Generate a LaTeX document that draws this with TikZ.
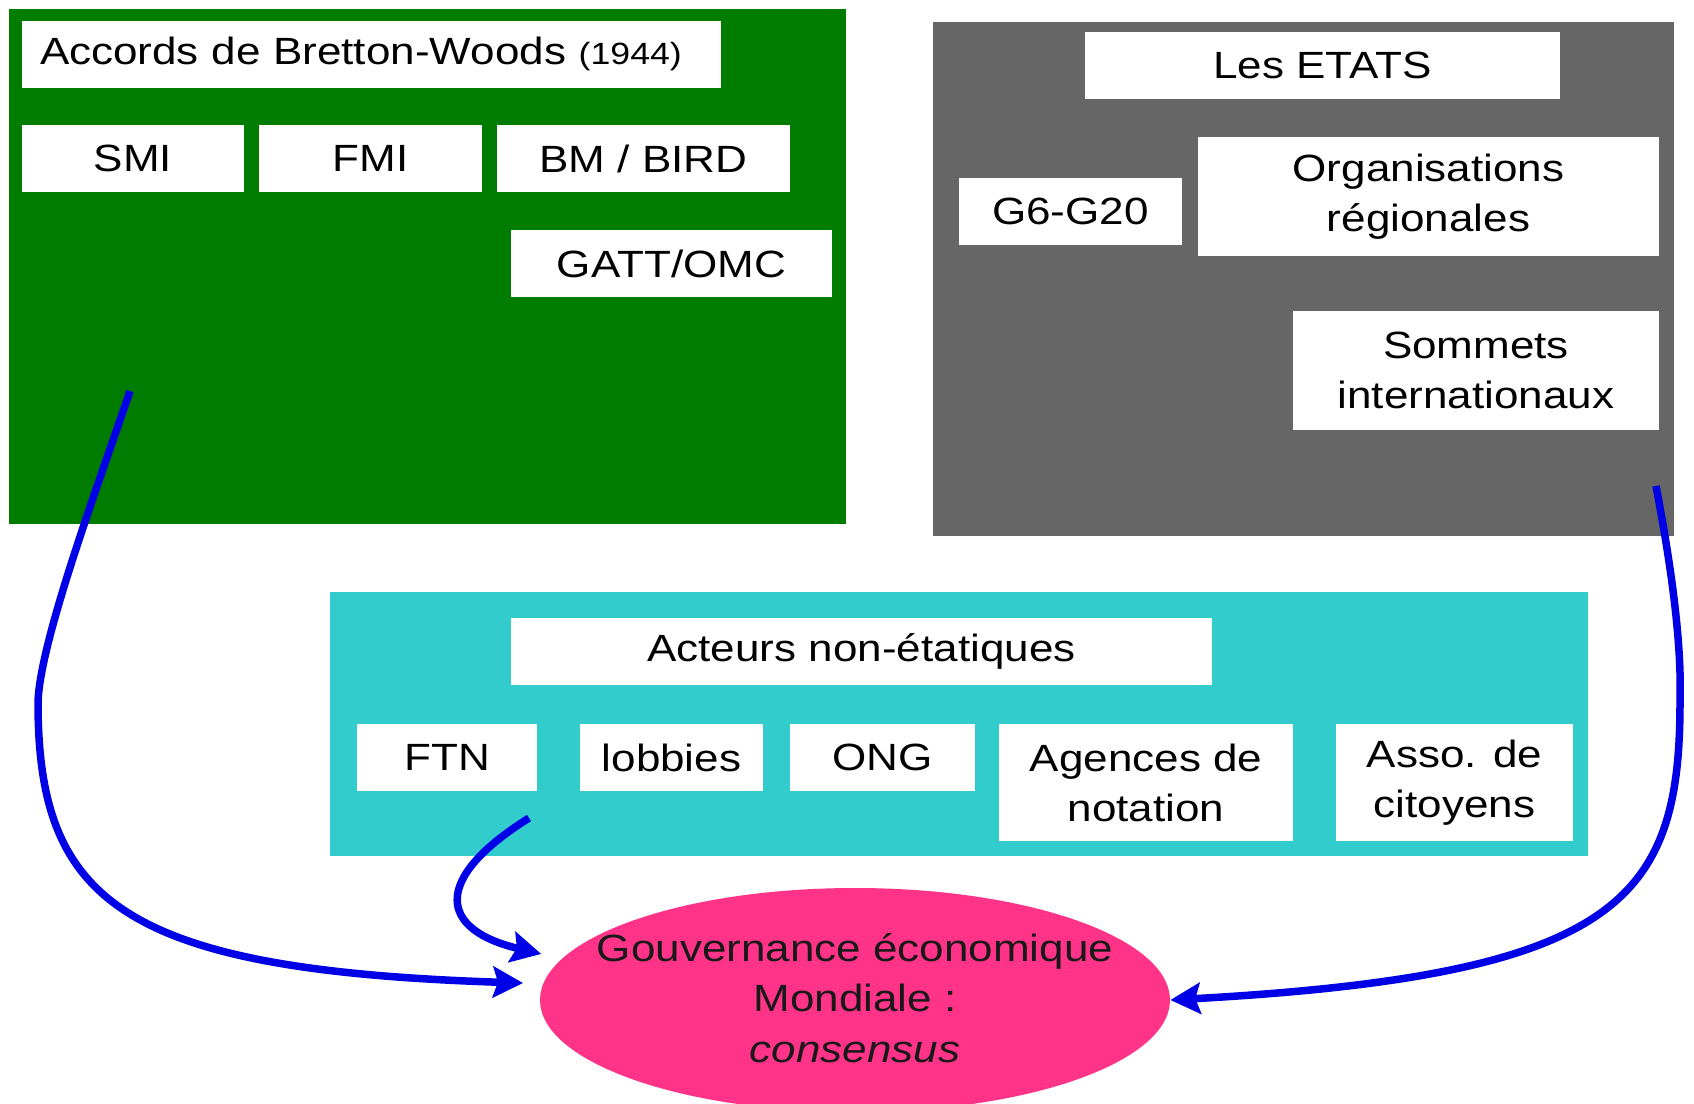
\documentclass[tikz,border=0pt]{standalone}
\usepackage{fontspec}
\setmainfont{Liberation Sans}[FakeStretch=1.16]
\usetikzlibrary{arrows.meta,shapes.geometric}
\definecolor{bwgreen}{RGB}{0,125,0}
\definecolor{stgray}{RGB}{102,102,102}
\definecolor{nacyan}{RGB}{51,204,204}
\definecolor{gepink}{RGB}{255,51,136}
\definecolor{arblue}{RGB}{0,0,230}
\begin{document}
\begin{tikzpicture}[x=0.02cm,y=-0.02cm,
  panel/.style={draw=none, inner sep=0pt},
  wbox/.style={fill=white, inner sep=0pt, align=center, font=\fontsize{21.6}{28.5}\selectfont},
  sz/.style 2 args={minimum width=#1*0.02cm, minimum height=#2*0.02cm},
  link/.style={draw=arblue, line width=0.15cm, -{Stealth[length=0.6cm,width=0.62cm,inset=0.1cm]}}
]
\fill[white] (0,0) rectangle (1694,1103);
\useasboundingbox (0,0) rectangle (1694,1103);

% Bretton-Woods panel
\node[panel, fill=bwgreen, sz={837}{515}] (bw) at (427.5,266.5) {};
\node[wbox, sz={699}{67}, inner xsep=0.36cm, text width=663*0.02cm, align=left] (bwt) at (371.5,54)
  {Accords de Bretton-Woods {\fontsize{17.5}{20}\selectfont (1944)}};
\node[wbox, sz={222}{67}] (smi) at (133,158.5) {SMI};
\node[wbox, sz={223}{67}] (fmi) at (370.5,158.5) {FMI};
\node[wbox, sz={293}{67}] (bm) at (643.5,158.5) {BM / BIRD};
\node[wbox, sz={321}{67}] (gatt) at (671.5,263.5) {GATT/OMC};

% Etats panel
\node[panel, fill=stgray, sz={741}{514}] (st) at (1303.5,279) {};
\node[wbox, sz={475}{67}] (etats) at (1322.5,65.5) {Les ETATS};
\node[wbox, sz={223}{67}] (g6) at (1070.5,211.5) {G6-G20};
\node[wbox, sz={461}{119}] (org) at (1428.5,196.5) {Organisations\\régionales};
\node[wbox, sz={366}{119}] (som) at (1476,370.5) {Sommets\\internationaux};

% Non-state actors panel
\node[panel, fill=nacyan, sz={1258}{264}] (na) at (959,724) {};
\node[wbox, sz={701}{67}] (act) at (861.5,651.5) {Acteurs non-étatiques};
\node[wbox, sz={180}{67}] (ftn) at (447,757.5) {FTN};
\node[wbox, sz={183}{67}] (lob) at (671.5,757.5) {lobbies};
\node[wbox, sz={185}{67}] (ong) at (882.5,757.5) {ONG};
\node[wbox, sz={294}{117}] (agn) at (1146,782.5) {Agences de\\notation};
\node[wbox, sz={237}{117}] (aso) at (1454.5,782.5) {Asso. de\\citoyens};

% Governance ellipse
\node[ellipse, fill=gepink, inner sep=0pt, sz={630}{224}] (gov) at (855,1000) {};
\node[align=center, inner sep=0pt, text=black!90, font=\fontsize{21.6}{28.8}\selectfont] (govt) at ([yshift=0.04cm]gov.center)
  {Gouvernance économique\\Mondiale :\\\textit{consensus}};

% Connectors
\coordinate (a1s) at (130,391);
\coordinate (a2s) at (529,818);
\coordinate (a3s) at (1656,486);
\draw[link, shorten >=0.4cm] (a1s) .. controls (100,480) and (40,640) .. (38,702)
  .. controls (38,900) and (120,970) .. (gov.177);
\draw[link, shorten >=0.42cm] (a2s) .. controls (430,880) and (440,930) .. (gov.172.7);
\draw[link] (a3s) .. controls (1670,560) and (1682,640) .. (1680,702)
  .. controls (1680,900) and (1620,975) .. (gov.east);
\end{tikzpicture}
\end{document}
